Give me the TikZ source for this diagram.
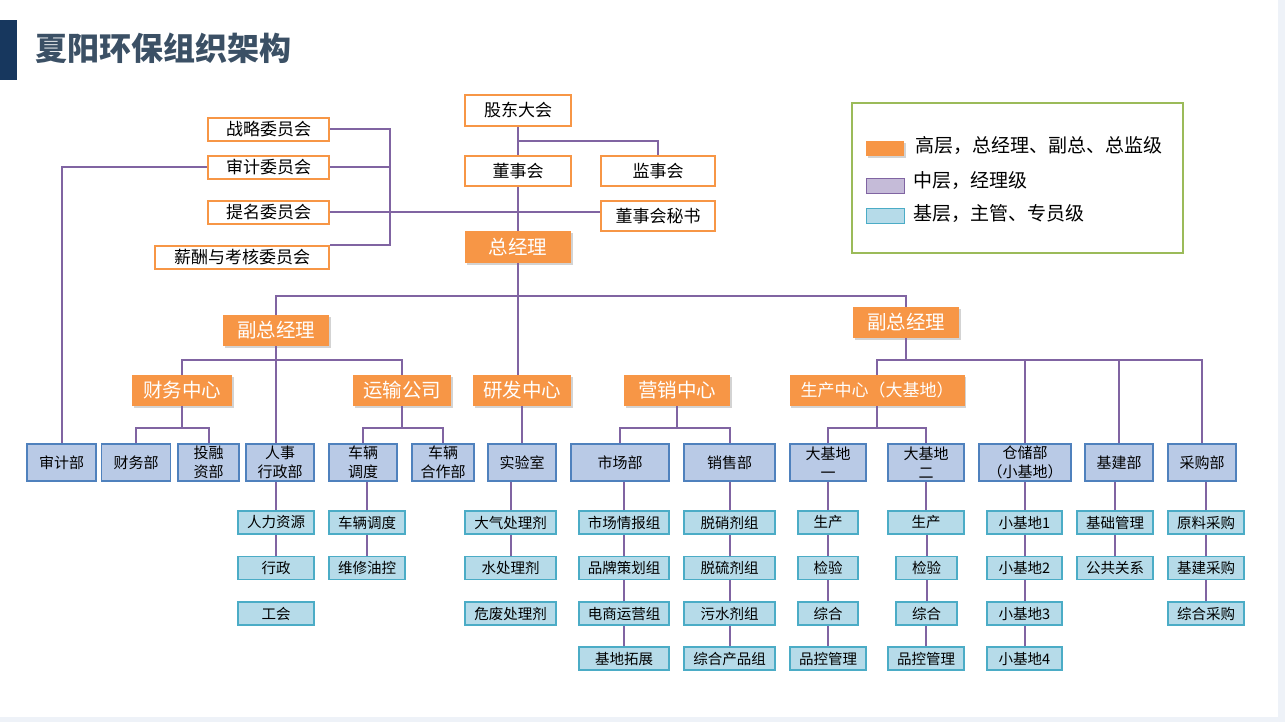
\documentclass[tikz,border=0pt]{standalone}
\usepackage{fontspec}
\setmainfont{Noto Sans CJK SC}
\usetikzlibrary{shadows}
\definecolor{orgfill}{HTML}{F79646}
\definecolor{linkpur}{HTML}{8064A2}
\definecolor{deptfill}{HTML}{B9CAE6}
\definecolor{deptline}{HTML}{4F81BD}
\definecolor{teamfill}{HTML}{B6DBE9}
\definecolor{teamline}{HTML}{4BACC6}
\definecolor{legline}{HTML}{9BBB59}
\definecolor{midfill}{HTML}{C5BBD8}
\definecolor{titlecol}{HTML}{3B5065}
\definecolor{navybar}{HTML}{17375E}
\definecolor{edgegray}{HTML}{EEF2F8}
\tikzset{
  link/.style={draw=linkpur, line width=2},
  board/.style={draw=orgfill, fill=white, line width=2, inner sep=0, minimum height=23, font=\fontsize{17}{20}\selectfont},
  lead/.style={fill=orgfill, text=white, inner sep=0, minimum height=31, font=\fontsize{19.5}{22}\selectfont, drop shadow={shadow xshift=1.5pt, shadow yshift=-2pt, opacity=.35}},
  dept/.style={draw=deptline, fill=deptfill, line width=1.2, inner sep=0, minimum height=37, align=center, font=\fontsize{15}{19}\selectfont},
  team/.style={draw=teamline, fill=teamfill, line width=1.2, inner sep=0, minimum height=23, font=\fontsize{14.5}{17}\selectfont},
  legtext/.style={anchor=west, inner sep=0, font=\fontsize{19}{22}\selectfont}
}
\begin{document}
\begin{tikzpicture}[x=1pt,y=-1pt]
  \useasboundingbox (0,0) rectangle (1285,722);
  \fill[edgegray] (1278,0) rectangle (1285,722);
  \fill[edgegray] (0,717) rectangle (1285,722);
  \fill[navybar] (0,20) rectangle (17,80);
  \node[anchor=west, inner sep=0, text=titlecol, font=\fontsize{32}{36}\selectfont\bfseries] (ttl) at (35,48) {夏阳环保组织架构};

  \node[board, minimum width=121] (zl) at (268.5,129.5) {战略委员会};
  \node[board, minimum width=121] (sj) at (268.5,167.5) {审计委员会};
  \node[board, minimum width=121] (tm) at (268.5,212.5) {提名委员会};
  \node[board, minimum width=174] (xc) at (242,257.5) {薪酬与考核委员会};
  \node[board, minimum width=106, minimum height=31] (gd) at (518,110.5) {股东大会};
  \node[board, minimum width=106, minimum height=30] (dsh) at (518,171) {董事会};
  \node[board, minimum width=114, minimum height=30] (jsh) at (658,171) {监事会};
  \node[board, minimum width=114, minimum height=30] (msk) at (658,216) {董事会秘书};
  \node[lead, minimum width=106, minimum height=32] (zjl) at (518,247) {总经理};

  \node[lead, minimum width=106] (fz1) at (276,330.5) {副总经理};
  \node[lead, minimum width=106] (fz2) at (906,322.5) {副总经理};
  \node[lead, minimum width=100] (cw) at (182,390.5) {财务中心};
  \node[lead, minimum width=98] (ys) at (402,390.5) {运输公司};
  \node[lead, minimum width=98] (yf) at (522,390.5) {研发中心};
  \node[lead, minimum width=106] (yx) at (677,390.5) {营销中心};
  \node[lead, minimum width=175, font=\fontsize{17}{20}\selectfont] (sc) at (877,390.5) {生产中心（大基地）};

  \node[dept, minimum width=69] (sjb) at (61.5,462.5) {审计部};
  \node[dept, minimum width=69] (cwb) at (136,462.5) {财务部};
  \node[dept, minimum width=61] (trz) at (208.5,462.5) {投融\\资部};
  \node[dept, minimum width=68] (rs) at (280,462.5) {人事\\行政部};
  \node[dept, minimum width=68] (cld) at (363,462.5) {车辆\\调度};
  \node[dept, minimum width=62] (clh) at (443,462.5) {车辆\\合作部};
  \node[dept, minimum width=68] (sys) at (522,462.5) {实验室};
  \node[dept, minimum width=98] (scb) at (620,462.5) {市场部};
  \node[dept, minimum width=91] (xsb) at (729.5,462.5) {销售部};
  \node[dept, minimum width=76] (dj1) at (828,462.5) {大基地\\一};
  \node[dept, minimum width=76] (dj2) at (926,462.5) {大基地\\二};
  \node[dept, minimum width=92] (ccb) at (1025,462.5) {仓储部\\（小基地）};
  \node[dept, minimum width=68] (jjb) at (1119,462.5) {基建部};
  \node[dept, minimum width=68] (cgb) at (1202,462.5) {采购部};

  \node[team, minimum width=76] (rl) at (276,522.5) {人力资源};
  \node[team, minimum width=76] (xz) at (276,568) {行政};
  \node[team, minimum width=76] (gh) at (276,613.5) {工会};
  \node[team, minimum width=76] (cdd) at (367,522.5) {车辆调度};
  \node[team, minimum width=76] (wx) at (367,568) {维修油控};
  \node[team, minimum width=91] (dq) at (510.5,522.5) {大气处理剂};
  \node[team, minimum width=91] (scl) at (510.5,568) {水处理剂};
  \node[team, minimum width=91] (wf) at (510.5,613.5) {危废处理剂};
  \node[team, minimum width=90] (qb) at (624,522.5) {市场情报组};
  \node[team, minimum width=90] (pp) at (624,568) {品牌策划组};
  \node[team, minimum width=90] (ds) at (624,613.5) {电商运营组};
  \node[team, minimum width=90] (jd) at (624,658.5) {基地拓展};
  \node[team, minimum width=91] (tx) at (729.5,522.5) {脱硝剂组};
  \node[team, minimum width=91] (tl) at (729.5,568) {脱硫剂组};
  \node[team, minimum width=91] (ws) at (729.5,613.5) {污水剂组};
  \node[team, minimum width=91] (zh) at (729.5,658.5) {综合产品组};
  \node[team, minimum width=60] (sa1) at (828,522.5) {生产};
  \node[team, minimum width=60] (ja1) at (828,568) {检验};
  \node[team, minimum width=60] (za1) at (828,613.5) {综合};
  \node[team, minimum width=76] (pa1) at (828,658.5) {品控管理};
  \node[team, minimum width=76] (sa2) at (926,522.5) {生产};
  \node[team, minimum width=61] (ja2) at (926.5,568) {检验};
  \node[team, minimum width=61] (za2) at (926.5,613.5) {综合};
  \node[team, minimum width=76] (pa2) at (926,658.5) {品控管理};
  \node[team, minimum width=75] (xj1) at (1024.5,522.5) {小基地1};
  \node[team, minimum width=75] (xj2) at (1024.5,568) {小基地2};
  \node[team, minimum width=75] (xj3) at (1024.5,613.5) {小基地3};
  \node[team, minimum width=75] (xj4) at (1024.5,658.5) {小基地4};
  \node[team, minimum width=76] (jc) at (1115,522.5) {基础管理};
  \node[team, minimum width=76] (gg) at (1115,568) {公共关系};
  \node[team, minimum width=76] (yl) at (1206,522.5) {原料采购};
  \node[team, minimum width=76] (jcg) at (1206,568) {基建采购};
  \node[team, minimum width=76] (zcg) at (1206,613.5) {综合采购};

  \node[draw=legline, line width=2, inner sep=0, minimum width=331, minimum height=149] (leg) at (1017,178) {};
  \node[lead, minimum width=38, minimum height=15] (key1) at (885,148.5) {};
  \node[draw=linkpur, fill=midfill, line width=1, inner sep=0, minimum width=38, minimum height=15] (key2) at (885,186.5) {};
  \node[draw=teamline, fill=teamfill, line width=1, inner sep=0, minimum width=38, minimum height=15] (key3) at (885,216.5) {};
  \node[legtext] (lt1) at (915,146) {高层，总经理、副总、总监级};
  \node[legtext] (lt2) at (913,181) {中层，经理级};
  \node[legtext] (lt3) at (913,213) {基层，主管、专员级};

  \coordinate (brk) at (390,0);
  \coordinate (b0) at (0,141);
  \coordinate (b1) at (0,296);
  \coordinate (b2) at (0,360);
  \coordinate (b3) at (0,428);
  \draw[link] (zl.east) -- (zl.east -| brk) |- (xc.north east);
  \draw[link] (sj.east) -- (sj.east -| brk);
  \draw[link] (tm.east) -- (tm.east -| msk.west);
  \draw[link] (sj.west) -| (sjb.north);
  \draw[link] (gd.south) -- (dsh.north) (dsh.south) -- (zjl.north);
  \draw[link] (gd.south |- b0) -| (jsh.north);
  \draw[link] (zjl.south) -- (zjl.south |- yf.north);
  \draw[link] (fz1.north) |- (b1 -| fz2.north) -- (fz2.north);
  \draw[link] (fz1.south) -- (fz1.south |- rs.north);
  \draw[link] (cw.north) |- (b2 -| ys.north) -- (ys.north);
  \draw[link] (cw.south) -- (cw.south |- b3);
  \draw[link] (cwb.north) |- (b3 -| trz.north) -- (trz.north);
  \draw[link] (ys.south) -- (ys.south |- b3);
  \draw[link] (cld.north) |- (b3 -| clh.north) -- (clh.north);
  \draw[link] (yf.south) -- (yf.south |- sys.north);
  \draw[link] (yx.south) -- (yx.south |- b3);
  \draw[link] (scb.north) |- (b3 -| xsb.north) -- (xsb.north);
  \draw[link] (fz2.south) -- (fz2.south |- b2);
  \draw[link] (sc.north) |- (b2 -| cgb.north) -- (cgb.north);
  \draw[link] (ccb.north) -- (ccb.north |- b2) (jjb.north) -- (jjb.north |- b2);
  \draw[link] (sc.south) -- (sc.south |- b3);
  \draw[link] (dj1.north) |- (b3 -| dj2.north) -- (dj2.north);
  \foreach \up/\dn in {rs/rl, rl/xz, cld/cdd, cdd/wx, sys/dq, dq/scl,
      scb/qb, qb/pp, pp/ds, ds/jd, xsb/tx, tx/tl, tl/ws, ws/zh,
      dj1/sa1, sa1/ja1, ja1/za1, za1/pa1, dj2/sa2, sa2/ja2, ja2/za2, za2/pa2,
      ccb/xj1, xj1/xj2, xj2/xj3, xj3/xj4, jjb/jc, jc/gg, cgb/yl, yl/jcg, jcg/zcg}
    \draw[link] (\dn.north) -- (\dn.north |- \up.south);
\end{tikzpicture}
\end{document}
